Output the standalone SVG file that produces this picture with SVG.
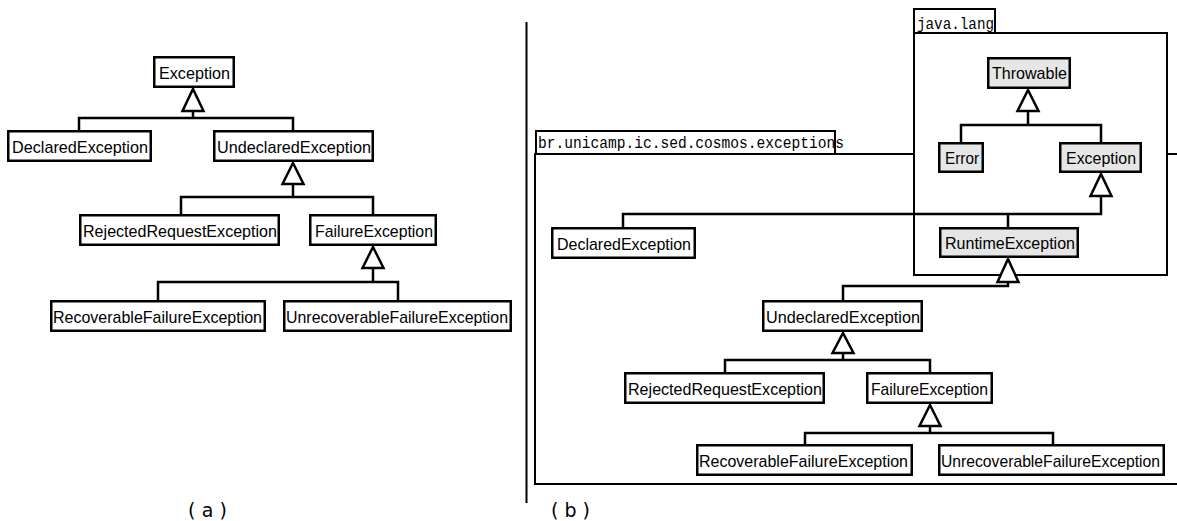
<svg xmlns="http://www.w3.org/2000/svg" width="1177" height="521" viewBox="0 0 1177 521">
  <style>
    .box { fill: #ffffff; stroke: #000000; stroke-width: 2.5; }
    .lib { fill: #e6e6e6; }
    .pkg { fill: #ffffff; stroke: #000000; stroke-width: 2; }
    .name { font-family: "Liberation Sans", "DejaVu Sans", sans-serif; font-size: 16.2px; fill: #000000; }
    .pkgname { font-family: "Liberation Mono", "DejaVu Sans Mono", monospace; font-size: 16.5px; fill: #000000; }
    .cap { font-family: "DejaVu Sans", "Liberation Sans", sans-serif; font-size: 19px; fill: #000000; }
    .edge { fill: none; stroke: #000000; stroke-width: 2.5; }
    .tri { fill: #ffffff; stroke: #000000; stroke-width: 2.5; stroke-linejoin: miter; }
  </style>

  <!-- panel divider -->
  <line x1="526.5" y1="22" x2="526.5" y2="503" stroke="#000000" stroke-width="2"/>

  <!-- captions -->
  <text class="cap" x="188" y="517" textLength="39" lengthAdjust="spacing">( a )</text>
  <text class="cap" x="551" y="517" textLength="39" lengthAdjust="spacing">( b )</text>

  <!-- packages of panel (b) -->
  <g id="pkg-exceptions">
    <rect class="pkg" x="535" y="154" width="700" height="330"/>
    <rect class="pkg" x="536" y="131" width="299" height="23"/>
    <text class="pkgname" x="538" y="148" textLength="306" lengthAdjust="spacingAndGlyphs">br.unicamp.ic.sed.cosmos.exceptions</text>
  </g>
  <g id="pkg-java-lang">
    <rect class="pkg" x="914" y="33" width="253" height="242"/>
    <rect class="pkg" x="914" y="9" width="81" height="24"/>
    <text class="pkgname" x="917" y="28.5" textLength="77" lengthAdjust="spacingAndGlyphs">java.lang</text>
  </g>

  <!-- panel (a) classes -->
  <g id="a-exception">
    <rect class="box" x="154.25" y="57.25" width="79.5" height="29.5"/>
    <text class="name" x="159" y="78.5" textLength="71" lengthAdjust="spacingAndGlyphs">Exception</text>
  </g>
  <g id="a-declared">
    <rect class="box" x="8.25" y="131.25" width="142.5" height="29.5"/>
    <text class="name" x="12" y="152.5" textLength="136" lengthAdjust="spacingAndGlyphs">DeclaredException</text>
  </g>
  <g id="a-undeclared">
    <rect class="box" x="214.25" y="131.25" width="158.5" height="29.5"/>
    <text class="name" x="217" y="152.5" textLength="154" lengthAdjust="spacingAndGlyphs">UndeclaredException</text>
  </g>
  <g id="a-rejected">
    <rect class="box" x="80.25" y="215.25" width="198.5" height="29.5"/>
    <text class="name" x="83" y="236.5" textLength="194" lengthAdjust="spacingAndGlyphs">RejectedRequestException</text>
  </g>
  <g id="a-failure">
    <rect class="box" x="310.25" y="215.25" width="125.5" height="29.5"/>
    <text class="name" x="315" y="236.5" textLength="118" lengthAdjust="spacingAndGlyphs">FailureException</text>
  </g>
  <g id="a-recoverable">
    <rect class="box" x="51.25" y="301.25" width="213.5" height="29.5"/>
    <text class="name" x="53" y="322.5" textLength="209" lengthAdjust="spacingAndGlyphs">RecoverableFailureException</text>
  </g>
  <g id="a-unrecoverable">
    <rect class="box" x="284.25" y="301.25" width="226.5" height="29.5"/>
    <text class="name" x="286" y="322.5" textLength="222" lengthAdjust="spacingAndGlyphs">UnrecoverableFailureException</text>
  </g>

  <!-- panel (b) classes -->
  <g id="b-throwable">
    <rect class="box lib" x="988.25" y="58.25" width="81.5" height="29.5"/>
    <text class="name" x="992" y="79" textLength="75" lengthAdjust="spacingAndGlyphs">Throwable</text>
  </g>
  <g id="b-error">
    <rect class="box lib" x="939.25" y="143.25" width="43.5" height="28.5"/>
    <text class="name" x="945" y="164" textLength="34" lengthAdjust="spacingAndGlyphs">Error</text>
  </g>
  <g id="b-exception">
    <rect class="box lib" x="1060.25" y="143.25" width="80.5" height="28.5"/>
    <text class="name" x="1066" y="164" textLength="70" lengthAdjust="spacingAndGlyphs">Exception</text>
  </g>
  <g id="b-runtime">
    <rect class="box lib" x="940.25" y="228.25" width="137.5" height="28.5"/>
    <text class="name" x="945" y="249" textLength="130" lengthAdjust="spacingAndGlyphs">RuntimeException</text>
  </g>
  <g id="b-declared">
    <rect class="box" x="552.25" y="228.25" width="142.5" height="29.5"/>
    <text class="name" x="557" y="249.5" textLength="134" lengthAdjust="spacingAndGlyphs">DeclaredException</text>
  </g>
  <g id="b-undeclared">
    <rect class="box" x="763.25" y="301.25" width="158.5" height="29.5"/>
    <text class="name" x="766" y="322.5" textLength="154" lengthAdjust="spacingAndGlyphs">UndeclaredException</text>
  </g>
  <g id="b-rejected">
    <rect class="box" x="625.25" y="373.25" width="198.5" height="29.5"/>
    <text class="name" x="628" y="394.5" textLength="194" lengthAdjust="spacingAndGlyphs">RejectedRequestException</text>
  </g>
  <g id="b-failure">
    <rect class="box" x="867.25" y="373.25" width="124.5" height="29.5"/>
    <text class="name" x="871" y="394.5" textLength="117" lengthAdjust="spacingAndGlyphs">FailureException</text>
  </g>
  <g id="b-recoverable">
    <rect class="box" x="697.25" y="445.25" width="214.5" height="29.5"/>
    <text class="name" x="699" y="466.5" textLength="209" lengthAdjust="spacingAndGlyphs">RecoverableFailureException</text>
  </g>
  <g id="b-unrecoverable">
    <rect class="box" x="939.25" y="445.25" width="224.5" height="29.5"/>
    <text class="name" x="941" y="466.5" textLength="219" lengthAdjust="spacingAndGlyphs">UnrecoverableFailureException</text>
  </g>

  <!-- generalization connectors -->
  <g id="connectors">
    <!-- panel (a) -->
    <path class="edge" d="M79 130 V118 H293 V130 M193 111 V118"/>
    <polygon class="tri" points="193,89 203.5,111 182.5,111"/>
    <path class="edge" d="M181 214 V197 H373 V214 M293 184 V197"/>
    <polygon class="tri" points="293,163 303.5,184 282.5,184"/>
    <path class="edge" d="M158 300 V282 H398 V300 M373 268 V282"/>
    <polygon class="tri" points="373,247 383.5,268 362.5,268"/>

    <!-- panel (b) -->
    <path class="edge" d="M961 142 V125 H1101 V142 M1028 111 V125"/>
    <polygon class="tri" points="1028,90 1038.5,111 1017.5,111"/>
    <path class="edge" d="M623 227 V214 H1101 V196 M1008 214 V227"/>
    <polygon class="tri" points="1101,174 1111.5,196 1090.5,196"/>
    <path class="edge" d="M843 300 V286 H1008 V282"/>
    <polygon class="tri" points="1008,259 1018.5,282 997.5,282"/>
    <path class="edge" d="M725 372 V360 H930 V372 M843 353 V360"/>
    <polygon class="tri" points="843,333 853.5,353 832.5,353"/>
    <path class="edge" d="M805 444 V433 H1053 V444 M930 426 V433"/>
    <polygon class="tri" points="930,405 940.5,426 919.5,426"/>
  </g>
</svg>
